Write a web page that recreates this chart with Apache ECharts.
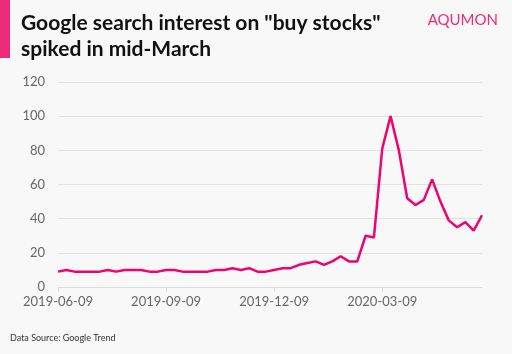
<!DOCTYPE html>
<html>
<head>
<meta charset="utf-8">
<script src="https://cdn.jsdelivr.net/npm/echarts@6/dist/echarts.min.js"></script>
<style>
  html, body { margin: 0; padding: 0; background: #f8f8f8; }
  #chart { width: 512px; height: 354px; }
</style>
</head>
<body>
<div id="chart"></div>
<script>
// weekly google trend values, starting 2019-06-09
var interest = [9, 10, 9, 9, 9, 9, 10, 9, 10, 10,
  10, 9, 9, 10, 10, 9, 9, 9, 9, 10,
  10, 11, 10, 11, 9, 9, 10, 11, 11, 13,
  14, 15, 13, 15, 18, 15, 15, 30, 29, 81,
  100, 80, 52, 48, 51, 63, 50, 39, 35, 38, 33, 42]
var tickLabels = ['2019-06-09', '2019-09-09', '2019-12-09', '2020-03-09']
var weeks = interest.map(function (v, i) { return i })

var chart = echarts.init(document.getElementById('chart'))
chart.setOption({
  backgroundColor: '#f8f8f8',
  textStyle: { fontFamily: 'Lato' },
  graphic: [
    { type: 'rect', shape: { x: 0, y: 0, width: 10, height: 58 }, style: { fill: '#ee2a7b' } }
  ],
  title: [
    {
      text: 'Google search interest on "buy stocks"\nspiked in mid-March',
      left: 16, top: 5,
      textStyle: { fontFamily: 'Lato', fontWeight: 'bold', fontSize: 21, lineHeight: 26, color: '#111' }
    },
    {
      text: 'AQUMON',
      right: 9, top: 8,
      textStyle: { fontFamily: 'Lato', fontWeight: 'normal', fontSize: 15, color: '#ee2a7b' }
    },
    {
      text: 'Data Source: Google Trend',
      left: 5, top: 329,
      textStyle: { fontFamily: 'Lato', fontWeight: 'normal', fontSize: 9, color: '#333' }
    }
  ],
  grid: { left: 58, right: 30, top: 82, bottom: 67 },
  xAxis: {
    type: 'category',
    data: weeks,
    boundaryGap: false,
    axisLine: { lineStyle: { color: '#dddddd' } },
    axisTick: { interval: 12, length: 5, lineStyle: { color: '#dddddd' } },
    axisLabel: {
      interval: 12, margin: 8, color: '#666', fontSize: 13,
      formatter: function (v, i) { return tickLabels[i / 13] || '' }
    }
  },
  yAxis: {
    type: 'value',
    min: 0, max: 120, interval: 20,
    axisLine: { show: false },
    axisTick: { show: false },
    axisLabel: { color: '#666', fontSize: 13, margin: 13 },
    splitLine: { lineStyle: { color: '#e2e2e2' } }
  },
  series: [{
    name: 'buy stocks',
    type: 'line',
    data: interest,
    symbol: 'none',
    lineStyle: { color: '#f0046c', width: 2.5 }
  }]
})
</script>
</body>
</html>
